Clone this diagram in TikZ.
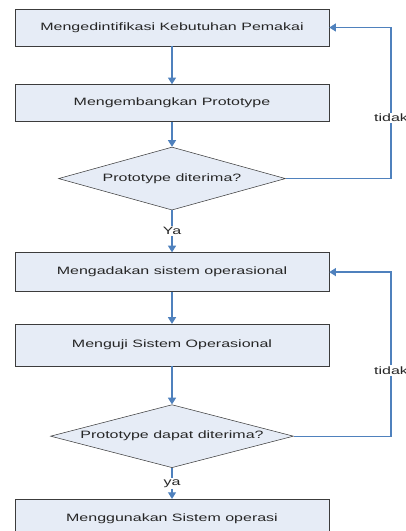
\documentclass[tikz,border=0pt]{standalone}
\usepackage{fontspec}
\setmainfont{Liberation Sans}[FakeStretch=1.5]
\usetikzlibrary{shapes.geometric,arrows.meta,positioning}
\definecolor{boxfill}{RGB}{230,236,246}
\definecolor{flowblue}{RGB}{79,129,189}
\definecolor{boxline}{RGB}{60,60,60}

\begin{document}
\begin{tikzpicture}[x=0.75pt, y=-0.75pt, font=\fontsize{8}{9.6}\selectfont,
        process/.style={rectangle, draw=boxline, fill=boxfill, text=black!85, minimum width=235.5pt, minimum height=27.75pt, inner sep=0pt},
        decision/.style={diamond, draw=boxline, fill=boxfill, text=black!85, inner sep=0pt, minimum height=47.25pt},
        line/.style={draw=flowblue, line width=1pt, -{Triangle[length=5pt,width=6pt]}},
        answer/.style={fill=white, inner sep=1pt, text=black!85}
    ]
        \useasboundingbox (0,0) rectangle (406,531);
        % First cycle
        \node[process] (identify) at (172,27.5) {Mengedintifikasi Kebutuhan Pemakai};
        \node[process, below=28.5pt of identify] (develop) {Mengembangkan Prototype};
        \node[decision, aspect=3.6, minimum width=170.25pt, below=18.75pt of develop] (accept) {Prototype diterima?};
        % Second cycle
        \node[process, minimum height=29.25pt, below=31.5pt of accept] (build) {Mengadakan sistem operasional};
        \node[process, minimum height=31.5pt, below=24pt of build] (test) {Menguji Sistem Operasional};
        \node[decision, aspect=3.86, minimum width=182.25pt, below=28.5pt of test] (approve) {Prototype dapat diterima?};
        \node[process, minimum height=30pt, below=23.25pt of approve] (use) {Menggunakan Sistem operasi};
        % Return rail
        \coordinate (rail) at (391,0);
        % Connections
        \path[line] (identify) -- (develop);
        \path[line] (develop) -- (accept);
        \path[line] (accept) -- node[answer] {Ya} (build);
        \path[line] (accept.east) -| node[answer, pos=0.7] {tidak} (identify.east -| rail) -- (identify.east);
        \path[line] (build) -- (test);
        \path[line] (test) -- (approve);
        \path[line] (approve) -- node[answer] {ya} (use);
        \path[line] (approve.east) -| node[answer, pos=0.7] {tidak} (build.east -| rail) -- (build.east);
\end{tikzpicture}
\end{document}
